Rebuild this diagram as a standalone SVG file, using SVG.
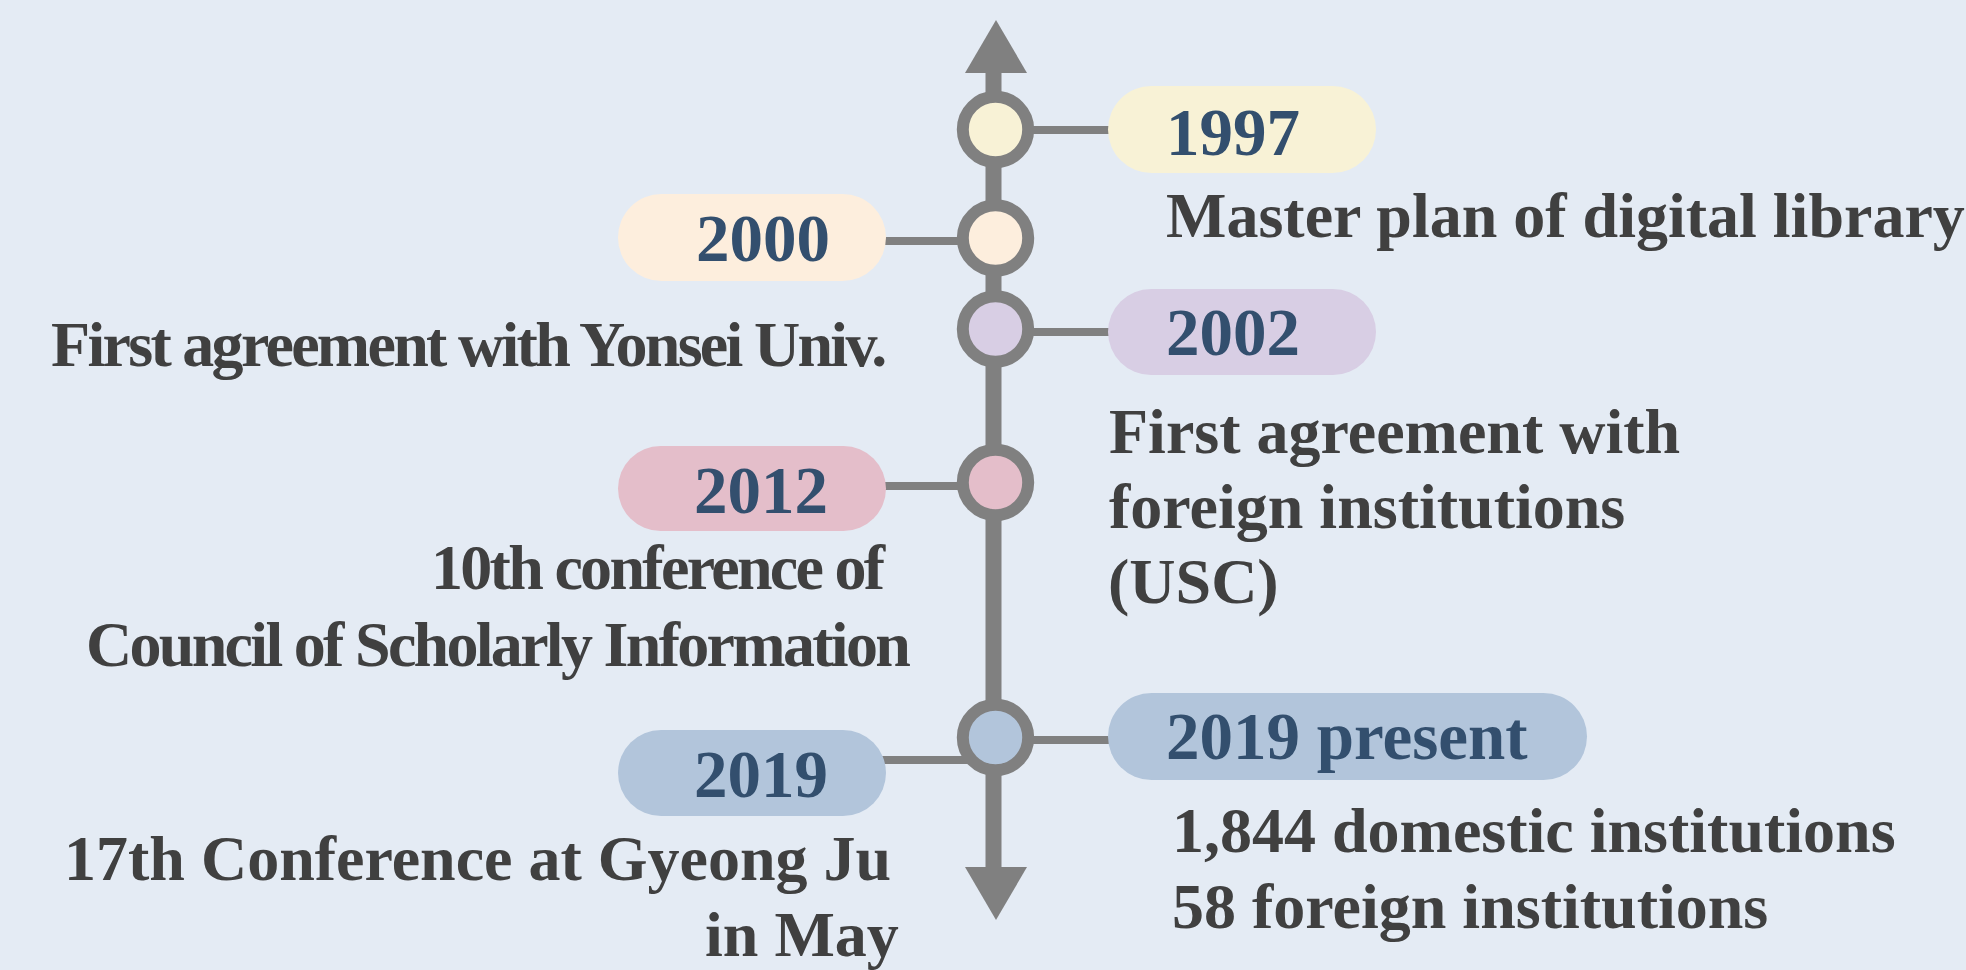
<svg xmlns="http://www.w3.org/2000/svg" width="1966" height="970" viewBox="0 0 1966 970">
<style>
.bg{fill:#E4EBF4}
.line{stroke:#808080;fill:none}
.spine{stroke-width:16}
.conn{stroke-width:8}
.head{fill:#808080}
.dot{stroke:#808080;stroke-width:12}
.year{font-family:"Liberation Serif","Times New Roman",serif;font-weight:bold;font-size:67px;fill:#334F6E}
.desc{font-family:"Liberation Serif","Times New Roman",serif;font-weight:bold;font-size:64px;fill:#404040}
.tight{letter-spacing:-2.7px}
.c1997{fill:#F8F2D6}
.c2000{fill:#FDEEDD}
.c2002{fill:#D8CEE4}
.c2012{fill:#E4BECA}
.c2019{fill:#B2C5DB}
</style>
<rect class="bg" x="0" y="0" width="1966" height="970"/>
<g id="connectors">
<line class="line spine" x1="993.5" y1="70" x2="993.5" y2="870"/>
<polygon class="head" points="965,73 1027,73 996,20"/>
<polygon class="head" points="965,867 1027,867 996,920"/>
<line class="line conn" x1="1000" y1="130" x2="1112" y2="130"/>
<line class="line conn" x1="882" y1="241" x2="990" y2="241"/>
<line class="line conn" x1="1000" y1="332" x2="1112" y2="332"/>
<line class="line conn" x1="882" y1="486" x2="990" y2="486"/>
<line class="line conn" x1="1000" y1="740" x2="1112" y2="740"/>
<line class="line conn" x1="882" y1="760" x2="975" y2="760"/>
</g>
<g id="node-1997">
<rect class="c1997" x="1108" y="86" width="268" height="87" rx="43.5"/>
<circle class="dot c1997" cx="995.5" cy="129.5" r="32.7"/>
<text class="year" x="1166" y="155">1997</text>
<text class="desc" x="1166" y="237">Master plan of digital library</text>
</g>
<g id="node-2000">
<rect class="c2000" x="618" y="194" width="268" height="87" rx="43.5"/>
<circle class="dot c2000" cx="995.5" cy="238" r="32.7"/>
<text class="year" x="696" y="261">2000</text>
<text class="desc tight" x="51" y="366">First agreement with Yonsei Univ.</text>
</g>
<g id="node-2002">
<rect class="c2002" x="1108" y="289" width="268" height="86" rx="43"/>
<circle class="dot c2002" cx="995.5" cy="329" r="32.7"/>
<text class="year" x="1166" y="355">2002</text>
<text class="desc" x="1109" y="453">First agreement with</text>
<text class="desc" x="1109" y="528">foreign institutions</text>
<text class="desc" x="1108" y="603">(USC)</text>
</g>
<g id="node-2012">
<rect class="c2012" x="618" y="446" width="268" height="85" rx="42.5"/>
<circle class="dot c2012" cx="995.5" cy="482.5" r="32.7"/>
<text class="year" x="694" y="513">2012</text>
<text class="desc tight" x="431" y="589">10th conference of</text>
<text class="desc tight" x="86" y="666">Council of Scholarly Information</text>
</g>
<g id="node-2019">
<rect class="c2019" x="618" y="730" width="268" height="86" rx="43"/>
<text class="year" x="694" y="797">2019</text>
<text class="desc" x="64" y="880">17th Conference at Gyeong Ju</text>
<text class="desc" x="705" y="956">in May</text>
</g>
<g id="node-2019-present">
<rect class="c2019" x="1108" y="693" width="479" height="87" rx="43.5"/>
<circle class="dot c2019" cx="995.5" cy="737.5" r="32.7"/>
<text class="year" x="1166" y="759">2019 present</text>
<text class="desc" x="1172" y="852">1,844 domestic institutions</text>
<text class="desc" x="1172" y="928">58 foreign institutions</text>
</g>
</svg>
